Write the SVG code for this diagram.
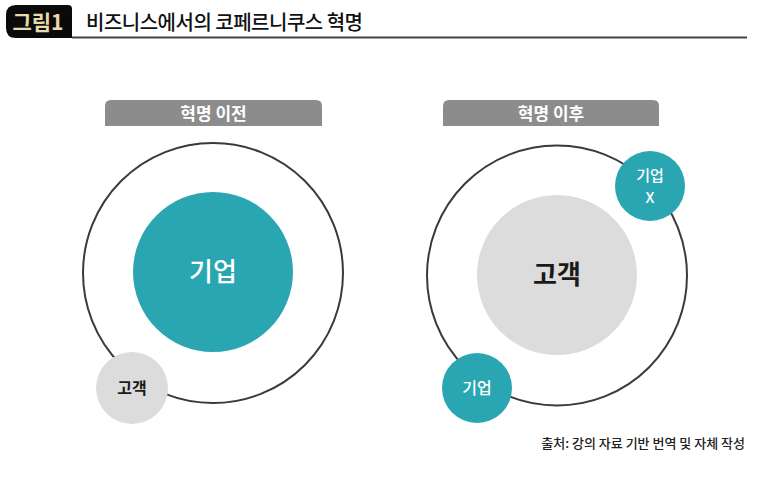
<svg xmlns="http://www.w3.org/2000/svg" width="773" height="477" viewBox="0 0 773 477">
<style>
  text { font-family: "Noto Sans CJK KR", "Noto Sans", sans-serif; text-anchor: middle; }
  .orbit { fill: none; stroke: #3a3a3a; stroke-width: 2; }
  .teal { fill: #2aa6b2; }
  .gray { fill: #dcdcdc; }
  .tab { fill: #8c8c8c; }
  .tabtxt { fill: #ffffff; font-size: 17px; font-weight: 700; }
  .big { font-size: 26px; font-weight: 500; }
  .small { font-size: 16px; font-weight: 500; }
  .white { fill: #ffffff; }
  .dark { fill: #1a1a1a; }
</style>
<rect width="773" height="477" fill="#ffffff"/>
<g id="header">
  <path d="M16,5 H68 Q72,5 72,9 V38 H16 Q6,38 6,28 V15 Q6,5 16,5 Z" fill="#0a0a0a"/>
  <text x="38" y="30" style="font-size:21px;font-weight:700;fill:#eadcaa">그림1</text>
  <line x1="72" y1="37.5" x2="747" y2="37.5" stroke="#444444" stroke-width="2"/>
  <text x="86" y="30" style="text-anchor:start;font-size:20px;font-weight:500;fill:#111111;letter-spacing:-0.5px">비즈니스에서의 코페르니쿠스 혁명</text>
</g>
<g id="tab-before">
  <path d="M105,126 V106 Q105,100 111,100 H316 Q322,100 322,106 V126 Z" class="tab"/>
  <text x="213.5" y="120" class="tabtxt">혁명 이전</text>
</g>
<g id="tab-after">
  <path d="M443,126 V106 Q443,100 449,100 H653 Q659,100 659,106 V126 Z" class="tab"/>
  <text x="551" y="120" class="tabtxt">혁명 이후</text>
</g>
<g id="connectors">
  <circle cx="213" cy="273" r="130" class="orbit"/>
  <circle cx="557" cy="275.5" r="130" class="orbit"/>
</g>
<g id="left-company">
  <circle cx="213" cy="272" r="80" class="teal"/>
  <text x="213" y="281" class="big white">기업</text>
</g>
<g id="left-customer">
  <circle cx="132" cy="388" r="36" class="gray"/>
  <text x="132" y="394" class="small dark" style="font-weight:700">고객</text>
</g>
<g id="right-customer">
  <circle cx="557" cy="275" r="80" class="gray"/>
  <text x="557" y="284" class="big dark" style="font-weight:700">고객</text>
</g>
<g id="right-company-x">
  <circle cx="650" cy="186" r="35" class="teal"/>
  <text x="650" y="181" class="white" style="font-size:15px;font-weight:500">기업</text>
  <text x="650" y="203" class="white" style="font-size:15px;font-weight:500">X</text>
</g>
<g id="right-company">
  <circle cx="477" cy="388" r="35" class="teal"/>
  <text x="477" y="394" class="small white">기업</text>
</g>
<g id="source">
  <text x="745" y="448" style="text-anchor:end;font-size:13px;font-weight:500;fill:#222222">출처: 강의 자료 기반 번역 및 자체 작성</text>
</g>
</svg>
